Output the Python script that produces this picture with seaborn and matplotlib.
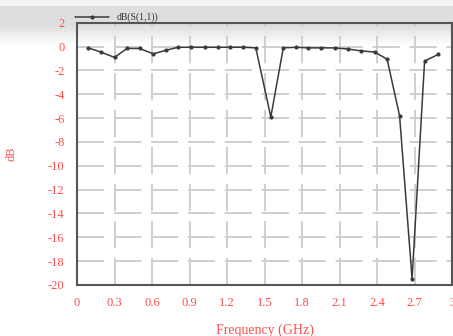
import matplotlib
matplotlib.use("Agg")
import matplotlib.pyplot as plt
import seaborn as sns
import numpy as np
import pandas as pd

# Return loss
freq_ghz = [0.09, 0.19, 0.30, 0.40, 0.50, 0.61, 0.71, 0.81, 0.91, 1.02,
            1.13, 1.22, 1.33, 1.43, 1.55, 1.65, 1.75, 1.85, 1.95, 2.06,
            2.17, 2.27, 2.38, 2.48, 2.58, 2.68, 2.78, 2.89]
s11_db = [-0.1, -0.45, -0.9, -0.15, -0.15, -0.6, -0.3, -0.05, -0.05, -0.05,
          -0.05, -0.05, -0.05, -0.1, -5.9, -0.1, -0.05, -0.1, -0.1, -0.1,
          -0.2, -0.35, -0.45, -1.05, -5.8, -19.5, -1.2, -0.65]
x_ticks = [0, 0.3, 0.6, 0.9, 1.2, 1.5, 1.8, 2.1, 2.4, 2.7, 3]
x_tick_labels = ["0", "0.3", "0.6", "0.9", "1.2", "1.5", "1.8", "2.1", "2.4", "2.7", "3"]
y_ticks = [2, 0, -2, -4, -6, -8, -10, -12, -14, -16, -18, -20]

df = pd.DataFrame({"freq": freq_ghz, "s11": s11_db})

sns.set_style("white")
plt.rcParams["font.family"] = ["Liberation Serif", "DejaVu Serif"]
plt.rcParams["axes.unicode_minus"] = False

red = "#ff4d4d"
fig = plt.figure(figsize=(4.53, 3.36), dpi=100)

# faint grey smear along the top of the screenshot
bg = fig.add_axes([0, 0, 1, 1], zorder=-1)
rows = np.linspace(0, 1, 336)
shade = np.where(rows < 0.015, 0.95, np.clip(0.87 + (rows - 0.075) * 2.2, 0.87, 1.0))
bg.imshow(np.tile(shade[:, None], (1, 453)), cmap="gray", vmin=0, vmax=1,
          aspect="auto", extent=[0, 1, 1, 0])
bg.set_xlim(0, 1)
bg.set_ylim(1, 0)
bg.axis("off")

ax = fig.add_axes([0.170, 0.152, 0.828, 0.780])
ax.patch.set_alpha(0)

sns.lineplot(data=df, x="freq", y="s11", ax=ax, color="#3a3a3a", linewidth=1.1,
             marker="o", markersize=3, markeredgewidth=0, label="dB(S(1,1))")

ax.set_xlim(0, 3)
ax.set_ylim(-20, 2)
ax.set_xticks(x_ticks)
ax.set_xticklabels(x_tick_labels)
ax.set_yticks(y_ticks)
ax.tick_params(axis="both", length=0, labelsize=9, labelcolor=red)
ax.tick_params(axis="x", pad=9)
ax.tick_params(axis="y", pad=9)

ax.grid(True, color="#cfcfcf", linewidth=1.4, linestyle=(0, (14, 5)))
for side in ["left", "bottom", "top", "right"]:
    ax.spines[side].set_color("#555555")
    ax.spines[side].set_linewidth(1.5)

ax.set_xlabel("Frequency (GHz)", color=red, fontsize=10, labelpad=10)
ax.set_ylabel("dB", color=red, fontsize=9, labelpad=22)

ax.legend(loc="lower left", bbox_to_anchor=(-0.01, 0.995), frameon=False,
          fontsize=7, handlelength=3.5, borderpad=0.1, borderaxespad=0.1,
          labelcolor="#333333")

fig.savefig("out.png", dpi=100)
